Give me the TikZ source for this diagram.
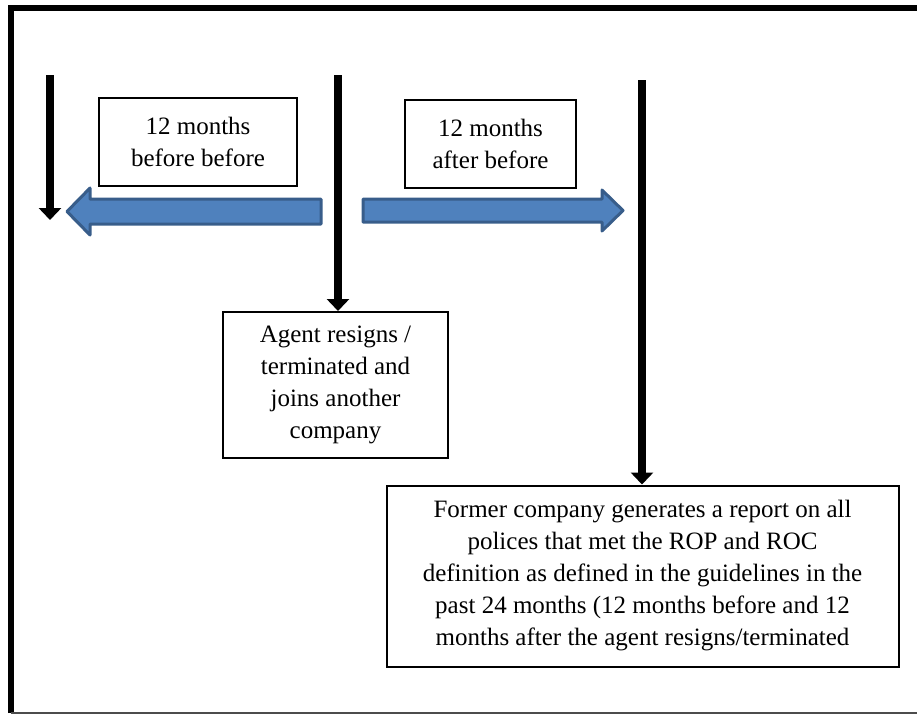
\documentclass[tikz,border=0pt]{standalone}
\usepackage{fontspec}
\setmainfont{Liberation Serif}
\usetikzlibrary{arrows.meta,positioning}
\definecolor{barblue}{RGB}{79,129,189}
\definecolor{baredge}{RGB}{56,93,138}
\tikzset{
  tbox/.style={draw=black,line width=1pt,align=center,inner sep=0pt,
    font=\fontsize{12.5}{16}\selectfont},
  vline/.style={line width=4pt,-{Triangle[width=11pt,length=6pt]}},
  blockarrow/.style={fill=barblue,draw=baredge,line width=1.5pt,line join=round}
}
\begin{document}
\begin{tikzpicture}[x=0.5pt,y=-0.5pt]
        \useasboundingbox (0,0) rectangle (917,714);
        % frame
        \draw[line width=3pt] (10.5,713) -- (10.5,8) -- (917,8);
        \draw[black!70,line width=0.8pt] (10.5,713) -- (917,713);
        % boxes
        \node[tbox,minimum width=99pt,minimum height=44pt] (before) at (198,142)
          {12 months\\before before};
        \node[tbox,minimum width=85.5pt,minimum height=44pt] (after) at (490.5,144)
          {12 months\\after before};
        \node[tbox,minimum width=112.5pt,minimum height=73pt] (agent) at (335.5,385)
          {Agent resigns /\\terminated and\\joins another\\company};
        \node[tbox,minimum width=256pt,minimum height=90.5pt] (report) at (642.5,576)
          {Former company generates a report on all\\polices that met the ROP and ROC\\
           definition as defined in the guidelines in the\\past 24 months (12 months before and 12\\
           months after the agent resigns/terminated};
        % vertical arrows
        \coordinate (t1) at (50,75);
        \coordinate (e1) at (50,220);
        \coordinate (t2) at (338,75);
        \coordinate (t3) at (642,80);
        \draw[vline] (t1) -- (e1);
        \draw[vline] (t2) -- (agent.north -| t2);
        \draw[vline] (t3) -- (report.north -| t3);
        % block arrows
        \draw[blockarrow] (321,199) -- (90,199) -- (90,188) -- (67,211.5)
          -- (90,235) -- (90,224) -- (321,224) -- cycle;
        \draw[blockarrow] (363,199) -- (602,199) -- (602,190) -- (623,210.5)
          -- (602,231) -- (602,222) -- (363,222) -- cycle;
      \end{tikzpicture}
\end{document}
